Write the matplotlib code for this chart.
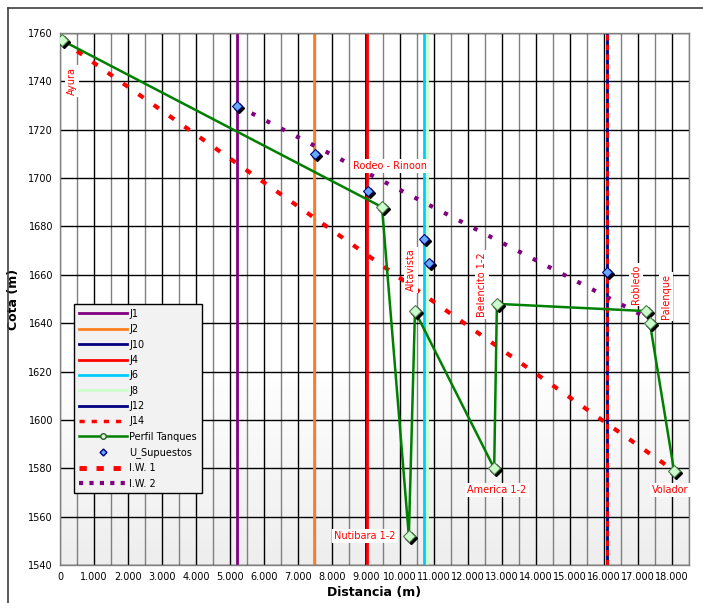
import matplotlib
matplotlib.use("Agg")
import matplotlib.pyplot as plt
import matplotlib.transforms as mtransforms
from matplotlib.lines import Line2D
from matplotlib.ticker import FuncFormatter, MultipleLocator
import numpy as np

# Perfil de tanques (distancia, cota)
tank_x = [50, 9470, 10260, 10440, 12770, 12850, 17240, 17350, 18060]
tank_y = [1757, 1688, 1552, 1645, 1580, 1648, 1645, 1640, 1579]

# U supuestos
u_x = [5200, 7500, 9050, 10700, 10850, 16100]
u_y = [1730, 1710, 1694.5, 1675, 1665, 1661]

# lineas I.W.
iw1_x = [50, 18060]
iw1_y = [1757, 1579]
iw2_x = [5200, 17300]
iw2_y = [1730, 1642]

# ubicacion de las juntas
joint_names = ["J1", "J2", "J10", "J4", "J6", "J8", "J12", "J14"]
joint_x = [5200, 7460, 9000, 9040, 10700, 10800, 16100, 16100]
joint_colors = ["#800080", "#ff7f1e", "#000080", "#ff0000", "#00ccff",
                "#ccffcc", "#000080", "#ff0000"]

fig = plt.figure(figsize=(7.03, 6.03), dpi=100)
ax = fig.add_axes([60 / 703, 1 - 565 / 603, 629 / 703, 532 / 603])

# marco exterior
fig.add_artist(Line2D([8 / 703, 8 / 703], [0, 1 - 8 / 603], color="#404040", lw=1.2))
fig.add_artist(Line2D([8 / 703, 1], [1 - 8 / 603, 1 - 8 / 603], color="#404040", lw=1.2))

ax.set_xlim(0, 18500)
ax.set_ylim(1540, 1760)

# fondo con degradado suave (solo hacia abajo)
grad = np.concatenate([np.ones(60), np.linspace(1, 0.93, 40)]).reshape(-1, 1)
ax.imshow(grad, extent=[0, 18500, 1540, 1760], aspect="auto", cmap="gray",
          vmin=0, vmax=1, zorder=0, origin="upper")

# grilla
for xv in np.arange(0, 18501, 500):
    c = "black" if xv % 1000 == 0 and xv > 0 else "#808080"
    ax.axvline(xv, color=c, lw=1.0, zorder=1)
for yv in np.arange(1540, 1761, 20):
    ax.axhline(yv, color="black", lw=1.0, zorder=1)

# juntas
for name, xv, col in zip(joint_names, joint_x, joint_colors):
    if name == "J14":
        ax.axvline(xv, color=col, lw=2, ls=(0, (2, 1.5)), zorder=3)
    else:
        ax.axvline(xv, color=col, lw=2, zorder=2)

# lineas I.W.
ax.plot(iw1_x, iw1_y, color="#ff0000", lw=3, ls=(0, (1.5, 3)), zorder=3)
ax.plot(iw2_x, iw2_y, color="#800080", lw=3, ls=(0, (1, 3)), zorder=3)

shadow = mtransforms.offset_copy(ax.transData, fig=fig, x=2, y=-2, units="dots")

# perfil tanques
ax.plot(tank_x, tank_y, color="#008000", lw=1.8, zorder=4)
ax.plot(tank_x, tank_y, ls="none", marker="D", ms=6.5, mfc="black", mec="black",
        transform=shadow, zorder=5)
ax.plot(tank_x, tank_y, ls="none", marker="D", ms=6.5, mfc="#ccffcc", mec="#4a7a4a",
        mew=0.8, zorder=6)

# U supuestos
ax.plot(u_x, u_y, ls="none", marker="D", ms=5, mfc="black", mec="black",
        transform=shadow, zorder=5)
ax.plot(u_x, u_y, ls="none", marker="D", ms=5, mfc="#66aaff", mec="#000080",
        mew=0.8, zorder=6)

# etiquetas de tanques
lbl = dict(color="red", fontsize=7, ha="center", va="center", zorder=7,
           bbox=dict(facecolor="white", edgecolor="none", pad=1.5))
ax.text(350, 1740, "Ayura", rotation=90, **lbl)
ax.text(9700, 1705, "Rodeo - Rinoon", **lbl)
ax.text(10320, 1662, "Altavista", rotation=90, **lbl)
ax.text(12410, 1656, "Belencito 1-2", rotation=90, **lbl)
ax.text(16940, 1656, "Robledo", rotation=90, **lbl)
ax.text(17820, 1651, "Palenque", rotation=90, **lbl)
ax.text(12850, 1571, "America 1-2", **lbl)
ax.text(17950, 1571, "Volador", **lbl)
ax.text(8970, 1552, "Nutibara 1-2", **lbl)

# ejes
ax.xaxis.set_major_locator(MultipleLocator(1000))
ax.yaxis.set_major_locator(MultipleLocator(20))
ax.xaxis.set_major_formatter(FuncFormatter(lambda v, p: f"{int(v):,}".replace(",", ".")))
ax.tick_params(axis="both", length=0, labelsize=7, pad=5)
for s in ax.spines.values():
    s.set_color("#808080")
    s.set_linewidth(1)
ax.set_xlabel("Distancia (m)", fontsize=9, fontweight="bold", labelpad=3)
ax.set_ylabel("Cota (m)", fontsize=9, fontweight="bold", labelpad=6)

# leyenda
handles = []
for name, col in zip(joint_names, joint_colors):
    if name == "J14":
        handles.append(Line2D([], [], color=col, lw=2.5, ls=(0, (1.5, 2))))
    else:
        handles.append(Line2D([], [], color=col, lw=2))
handles.append(Line2D([], [], color="#008000", lw=1.8, marker="o", ms=4,
                      mfc="#ccffcc", mec="#2a5a2a"))
handles.append(Line2D([], [], ls="none", marker="D", ms=3.5, mfc="#66aaff", mec="#000080"))
handles.append(Line2D([], [], color="#ff0000", lw=3.5, ls=(0, (1.5, 2))))
handles.append(Line2D([], [], color="#800080", lw=3, ls=(0, (1, 1.5))))
labels = joint_names + ["Perfil Tanques", "U_Supuestos", "I.W. 1", "I.W. 2"]
leg = fig.legend(handles, labels, loc="upper left",
                 bbox_to_anchor=(74 / 703, 1 - 304 / 603), fontsize=7,
                 frameon=True, fancybox=False, framealpha=1, edgecolor="black",
                 facecolor="#f2f2f2", handlelength=5, handletextpad=0.2,
                 labelspacing=0.55, borderpad=0.5, borderaxespad=0)
leg.get_frame().set_linewidth(1)
leg.set_zorder(10)

fig.savefig("out.png", dpi=100)
